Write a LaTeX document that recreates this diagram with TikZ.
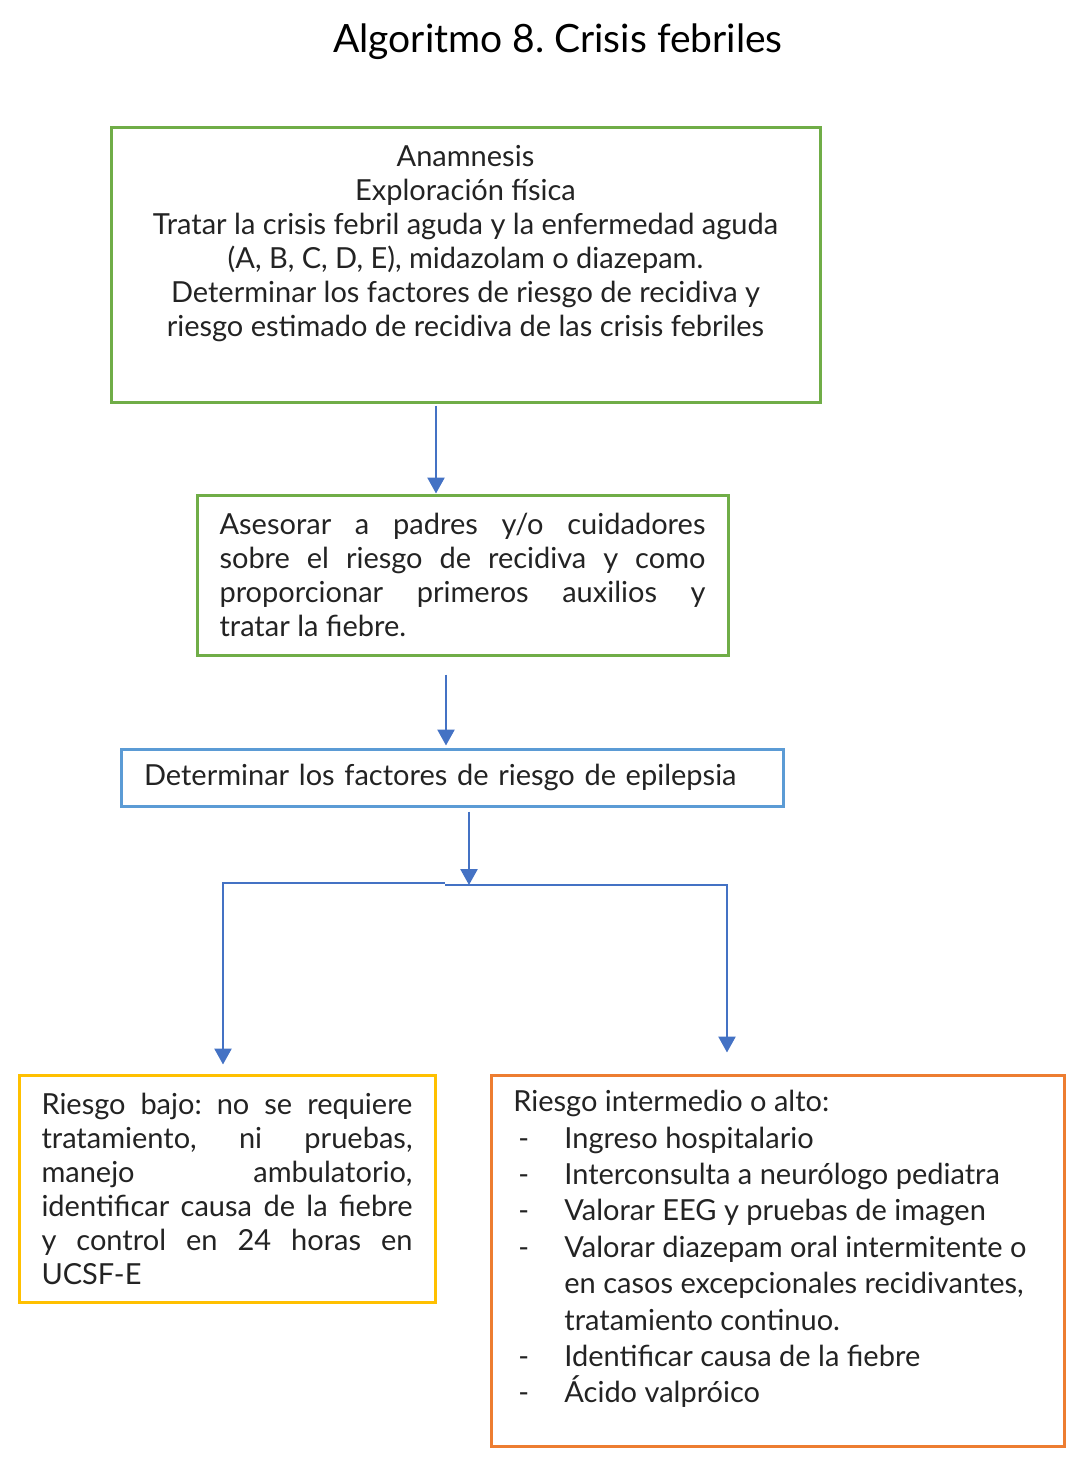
\documentclass[tikz,border=0pt]{standalone}
\usepackage{fontspec}
\setmainfont{Lato}
\usetikzlibrary{arrows.meta}
\definecolor{boxgreen}{RGB}{112,173,71}
\definecolor{boxblue}{RGB}{91,155,213}
\definecolor{arrblue}{RGB}{68,114,196}
\definecolor{boxyellow}{RGB}{255,192,0}
\definecolor{boxorange}{RGB}{237,125,49}
\definecolor{txt}{RGB}{35,35,35}
\frenchspacing
\tikzset{
  frame/.style={draw=#1, line width=1.5pt, rectangle, inner sep=0pt},
  arr/.style={draw=arrblue, line width=1.3pt, -{Triangle[width=8.5pt,length=8pt]}},
  body/.style={text=txt, font=\fontsize{14.5}{17}\selectfont},
}
\begin{document}
\begin{tikzpicture}[x=0.5pt,y=-0.5pt]
\useasboundingbox (0,0) rectangle (1077,1468);
% title
\node[text=black, font=\fontsize{19.5}{24}\selectfont] (title) at (558,42) {Algoritmo 8. Crisis febriles};
% box 1
\node[frame=boxgreen, minimum width=354.5pt, minimum height=137.5pt] (b1) at (465.5,264.5) {};
\node[body, align=center, anchor=north] (t1) at (465.5,138) {Anamnesis\\Exploración física\\Tratar la crisis febril aguda y la enfermedad aguda\\(A, B, C, D, E), midazolam o diazepam.\\Determinar los factores de riesgo de recidiva y\\riesgo estimado de recidiva de las crisis febriles};
% box 2
\node[frame=boxgreen, body, minimum width=265.5pt, minimum height=80pt, text width=243pt, align=justify] (b2) at (462.5,575) {Asesorar a padres y/o cuidadores\linebreak sobre el riesgo de recidiva y como\linebreak proporcionar primeros auxilios y\linebreak tratar la fiebre.};
% box 3
\node[frame=boxblue, body, minimum width=331pt, minimum height=28.5pt, text width=308pt, align=left] (b3) at (452,777.5) {Determinar los factores de riesgo de epilepsia};
% box 4
\node[frame=boxyellow, body, minimum width=208pt, minimum height=113.5pt, text width=185.5pt, align=justify] (b4) at (227,1188.5) {Riesgo bajo: no se requiere\linebreak tratamiento, ni pruebas,\linebreak manejo ambulatorio,\linebreak identificar causa de la fiebre\linebreak y control en 24 horas en\linebreak UCSF-E};
% box 5
\node[frame=boxorange, minimum width=286.5pt, minimum height=185.5pt] (b5) at (777.5,1260.5) {};
\node[body, font=\fontsize{14.5}{18.2}\selectfont, anchor=north west, align=left, inner sep=0pt] (t5) at (513,1090) {Riesgo intermedio o alto:\\
\makebox[25.5pt][l]{\hspace{2.5pt}-}Ingreso hospitalario\\
\makebox[25.5pt][l]{\hspace{2.5pt}-}Interconsulta a neurólogo pediatra\\
\makebox[25.5pt][l]{\hspace{2.5pt}-}Valorar EEG y pruebas de imagen\\
\makebox[25.5pt][l]{\hspace{2.5pt}-}Valorar diazepam oral intermitente o\\
\hspace*{25.5pt}en casos excepcionales recidivantes,\\
\hspace*{25.5pt}tratamiento continuo.\\
\makebox[25.5pt][l]{\hspace{2.5pt}-}Identificar causa de la fiebre\\
\makebox[25.5pt][l]{\hspace{2.5pt}-}Ácido valpróico};
% connectors
\coordinate (x1) at (436,0);
\coordinate (x2) at (446,0);
\coordinate (x3) at (469,0);
\coordinate (jl) at (445,883);
\coordinate (jr) at (445,885);
\coordinate (lc) at (223,883);
\coordinate (rc) at (727,885);
\draw[arr] ([yshift=-1pt]b1.south -| x1) -- (b2.north -| x1);
\draw[arr] ([yshift=-9pt]b2.south -| x2) -- ([yshift=1pt]b3.north -| x2);
\draw[arr] ([yshift=-2pt]b3.south -| x3) -- (x3 |- jr);
\draw[arr] (jl) -- (lc) -- ([yshift=4.5pt]b4.north -| lc);
\draw[arr] (jr) -- (rc) -- ([yshift=10.5pt]b5.north -| rc);
\end{tikzpicture}
\end{document}
